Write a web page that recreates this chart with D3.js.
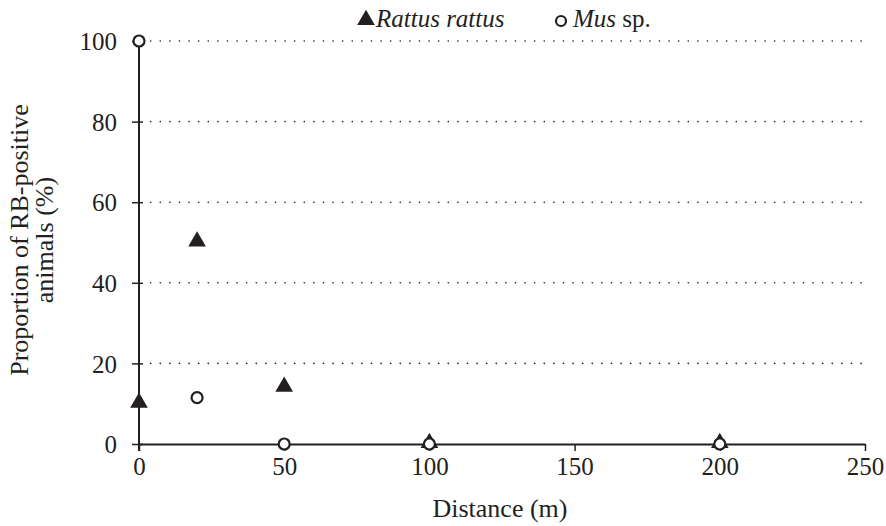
<!DOCTYPE html>
<html>
<head>
<meta charset="utf-8">
<script src="https://cdn.jsdelivr.net/npm/d3@7"></script>
<style>
  body { margin: 0; background: #fff; }
  svg text { font-family: "Liberation Serif", "Times New Roman", serif; fill: #231f20; }
</style>
</head>
<body>
<svg id="chart" width="886" height="526"></svg>
<script>
// data
var distances = [0, 20, 50, 100, 200];
var rattusValues = [10, 50, 14, 0, 0];
var musValues = [100, 11.5, 0, 0, 0];
var xTicks = [0, 50, 100, 150, 200, 250];
var yTicks = [0, 20, 40, 60, 80, 100];

var svg = d3.select("#chart");
var ink = "#231f20";

var x = d3.scaleLinear().domain([0, 250]).range([139, 865]);
var y = d3.scaleLinear().domain([0, 100]).range([444, 41]);

// dotted gridlines
svg.append("g")
  .selectAll("line")
  .data(yTicks.slice(1))
  .enter()
  .append("line")
    .attr("x1", x(4)).attr("x2", x(250))
    .attr("y1", function(d) { return y(d); })
    .attr("y2", function(d) { return y(d); })
    .attr("stroke", ink)
    .attr("stroke-width", 1.6)
    .attr("stroke-linecap", "round")
    .attr("stroke-dasharray", "0.1,9.5");

// x axis
var xAxis = svg.append("g")
  .attr("transform", "translate(0," + y(0) + ")")
  .call(d3.axisBottom(x).tickValues(xTicks).tickSize(7).tickPadding(6).tickSizeOuter(0));
xAxis.select(".domain").attr("stroke", ink).attr("stroke-width", 2);
xAxis.selectAll(".tick line").attr("stroke", ink).attr("stroke-width", 1.5);
xAxis.selectAll("text").style("font-size", "25px").style("fill", ink);

// y axis
var yAxis = svg.append("g")
  .attr("transform", "translate(" + x(0) + ",0)")
  .call(d3.axisLeft(y).tickValues(yTicks).tickSize(7).tickSizeOuter(0));
yAxis.select(".domain").attr("stroke", ink).attr("stroke-width", 2)
  .attr("d", "M0," + (y(0) + 7) + "V" + y(100));
yAxis.selectAll(".tick line").attr("stroke", ink).attr("stroke-width", 1.5).attr("x1", 4);
yAxis.selectAll("text").style("font-size", "25px").attr("x", -22).attr("dy", "0.35em").style("fill", ink);

// axis titles
svg.append("text")
  .attr("x", 500).attr("y", 517)
  .attr("text-anchor", "middle")
  .style("font-size", "26px")
  .text("Distance (m)");

var yTitle = svg.append("text")
  .attr("transform", "translate(28,240) rotate(-90)")
  .attr("text-anchor", "middle")
  .style("font-size", "26px");
yTitle.append("tspan").attr("x", 0).attr("dy", 0).text("Proportion of RB-positive");
yTitle.append("tspan").attr("x", 0).attr("dy", "0.95em").text("animals (%)");

// markers
var tri = d3.symbol().type(d3.symbolTriangle).size(135);

svg.append("g")
  .selectAll("path")
  .data(distances)
  .enter()
  .append("path")
    .attr("d", tri)
    .attr("transform", function(d, i) { return "translate(" + x(d) + "," + (y(rattusValues[i]) - 1) + ")"; })
    .attr("fill", ink);

svg.append("g")
  .selectAll("circle")
  .data(distances)
  .enter()
  .append("circle")
    .attr("cx", function(d) { return x(d); })
    .attr("cy", function(d, i) { return y(musValues[i]); })
    .attr("r", 5.5)
    .attr("fill", "#fff")
    .attr("stroke", ink)
    .attr("stroke-width", 2.2);

// legend
svg.append("path")
  .attr("d", tri)
  .attr("transform", "translate(366,20)")
  .attr("fill", ink);
svg.append("text")
  .attr("x", 376).attr("y", 27)
  .style("font-size", "25px")
  .attr("font-style", "italic")
  .text("Rattus rattus");

svg.append("circle")
  .attr("cx", 561).attr("cy", 21)
  .attr("r", 5)
  .attr("fill", "#fff")
  .attr("stroke", ink)
  .attr("stroke-width", 2.2);
var musLabel = svg.append("text")
  .attr("x", 573).attr("y", 27)
  .style("font-size", "25px");
musLabel.append("tspan").attr("font-style", "italic").text("Mus");
musLabel.append("tspan").text(" sp.");
</script>
</body>
</html>
